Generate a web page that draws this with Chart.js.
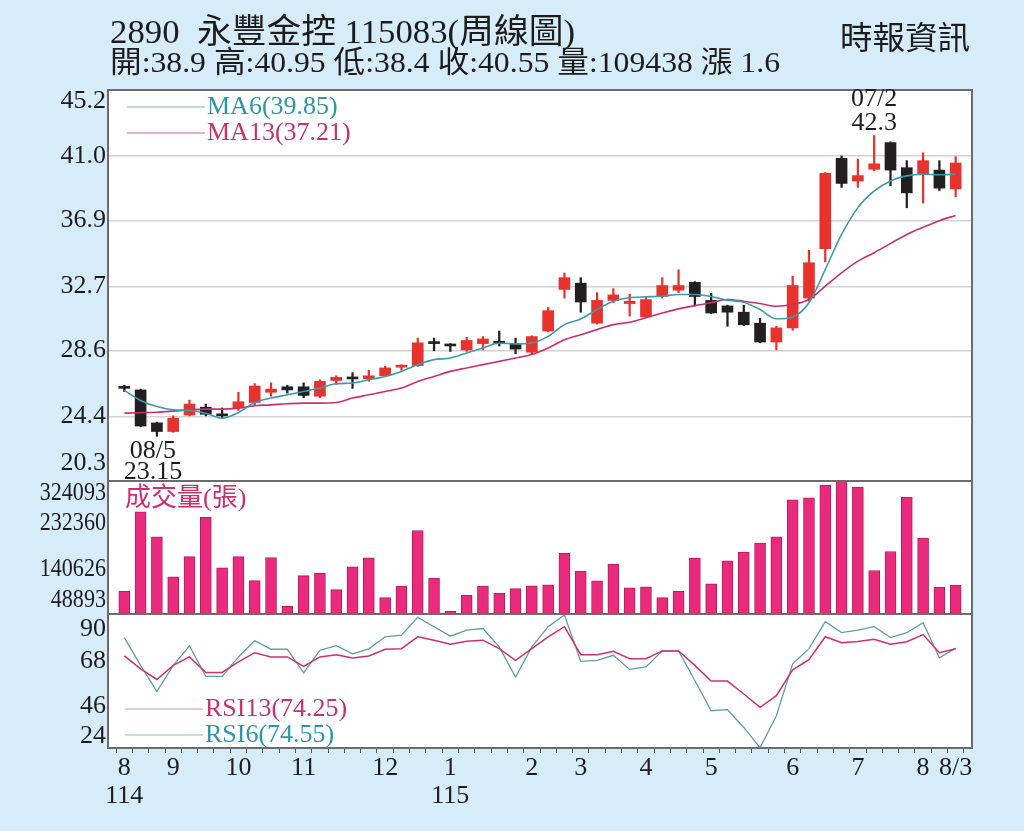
<!DOCTYPE html>
<html>

<head>
    <meta charset="UTF-8" />
    <title>永豐金控 周線圖</title>
    <script src="https://cdn.jsdelivr.net/npm/chart.js"></script>
    <style>
        body { margin: 0; background: #d6ecf9; }
        .lienzo { position: relative; width: 1024px; height: 831px; overflow: hidden; background: #d6ecf9; }
        .texto { position: absolute; white-space: nowrap; transform-origin: left center; color: #1c1c1c;
                 font-family: "Liberation Serif", "Noto Sans CJK TC", serif; }
        #linea1 { left: 110px; top: 14px; font-size: 34px; line-height: 36px; }
        #linea2 { left: 110px; top: 46px; font-size: 30px; line-height: 32px; }
        #fuente { left: 840px; top: 20px; font-size: 32px; line-height: 36px; }
        #grafico { position: absolute; left: 0; top: 0; }
    </style>
</head>

<body>
    <div class="lienzo">
        <canvas id="grafico" width="1024" height="831"></canvas>
        <div class="texto" id="linea1">2890&nbsp;&nbsp;永豐金控 115083(周線圖)</div>
        <div class="texto" id="linea2">開:38.9 高:40.95 低:38.4 收:40.55 量:109438 漲 1.6</div>
        <div class="texto" id="fuente">時報資訊</div>
    </div>

    <script>
        // Velas semanales (precio)
        const aperturas = [26.2, 26.1, 24.0, 23.45, 24.5, 25.0, 24.5, 24.95, 25.3, 25.95, 26.3, 26.3, 25.7, 26.7, 26.85, 26.8, 27.0, 27.55, 27.65, 29.1, 29.0, 28.65, 29.05, 29.2, 29.0, 28.5, 29.85, 32.5, 32.9, 30.35, 31.8, 31.6, 30.75, 32.05, 32.45, 32.95, 31.8, 31.45, 31.05, 30.35, 29.15, 30.05, 31.95, 35.1, 40.85, 39.4, 40.15, 41.85, 40.25, 39.85, 40.1, 38.9];
        const maximos = [26.4, 26.15, 24.05, 24.45, 25.45, 25.2, 24.95, 25.95, 26.5, 26.55, 26.4, 26.55, 26.75, 27.0, 27.2, 27.35, 27.6, 27.7, 29.4, 29.4, 29.05, 29.45, 29.5, 29.85, 29.4, 29.55, 31.35, 33.55, 33.25, 32.3, 32.55, 32.2, 32.05, 33.25, 33.75, 33.0, 32.25, 31.5, 31.5, 30.65, 30.15, 33.35, 35.0, 39.95, 41.0, 40.8, 42.3, 41.9, 40.7, 41.2, 40.7, 40.95];
        const minimos = [26.0, 23.75, 23.15, 23.4, 24.45, 24.45, 24.3, 24.8, 25.15, 25.7, 25.9, 25.6, 25.6, 26.45, 26.2, 26.65, 26.95, 27.35, 27.6, 28.6, 28.55, 28.55, 28.65, 28.9, 28.4, 28.35, 29.8, 31.95, 31.05, 30.3, 31.65, 30.8, 30.7, 31.95, 32.3, 31.45, 30.95, 30.15, 30.2, 29.1, 28.65, 29.9, 31.75, 34.25, 39.0, 39.0, 40.05, 39.1, 37.7, 38.0, 38.8, 38.4];
        const cierres = [26.2, 23.8, 23.45, 24.3, 25.2, 24.55, 24.45, 25.35, 26.35, 26.15, 26.1, 25.75, 26.65, 26.9, 26.8, 27.0, 27.5, 27.65, 29.1, 29.05, 28.9, 29.25, 29.35, 29.05, 28.7, 29.5, 31.15, 33.25, 31.7, 31.8, 32.15, 31.75, 31.85, 32.75, 32.75, 32.05, 31.0, 31.05, 30.25, 29.15, 30.05, 32.75, 34.2, 39.9, 39.25, 39.75, 40.5, 40.1, 38.65, 40.7, 38.95, 40.55];

        // Medias móviles
        const ma6 = [26.07, 25.43, 25.04, 24.83, 24.79, 24.62, 24.3, 24.66, 25.3, 25.58, 25.79, 26.0, 26.22, 26.49, 26.54, 26.75, 26.96, 27.28, 27.71, 28.03, 28.13, 28.45, 28.77, 29.09, 29.03, 29.09, 29.51, 30.26, 30.62, 31.22, 31.75, 31.97, 32.03, 32.07, 32.18, 32.18, 32.05, 31.81, 31.69, 31.22, 30.63, 30.75, 31.65, 33.77, 36.0, 37.71, 38.77, 39.41, 39.73, 39.84, 39.8, 39.85];
        const ma13 = [24.62, 24.65, 24.68, 24.75, 24.83, 24.88, 24.88, 24.94, 25.09, 25.15, 25.22, 25.26, 25.26, 25.3, 25.58, 25.79, 26.0, 26.22, 26.64, 26.96, 27.28, 27.5, 27.71, 27.92, 28.13, 28.35, 28.77, 29.3, 29.62, 29.94, 30.26, 30.41, 30.69, 31.0, 31.26, 31.47, 31.65, 31.86, 31.75, 31.6, 31.43, 31.54, 31.86, 32.71, 33.56, 34.3, 34.84, 35.43, 36.0, 36.46, 36.88, 37.21];

        // Volumen (張)
        const volumen = [97100, 255000, 205100, 125700, 166000, 243700, 143600, 166000, 118300, 164200, 67300, 128300, 133000, 100300, 145500, 163400, 84500, 107200, 217800, 123500, 57300, 89200, 107200, 93200, 102400, 107700, 109800, 172600, 137000, 117700, 150700, 103700, 105900, 84500, 97100, 162900, 111700, 157300, 174800, 192700, 205100, 278800, 282700, 308100, 316000, 304100, 138300, 176100, 283500, 202500, 105100, 109438];

        // RSI
        const rsi6 = [79.8, 66.0, 53.0, 66.0, 75.7, 60.5, 60.5, 70.2, 78.3, 74.0, 74.0, 62.3, 73.5, 75.8, 71.7, 74.2, 80.2, 81.0, 89.8, 85.2, 80.5, 83.5, 84.3, 75.2, 60.2, 75.2, 85.2, 91.0, 68.0, 68.5, 71.0, 64.0, 65.2, 73.2, 73.2, 58.5, 43.5, 44.0, 35.2, 25.2, 41.0, 66.8, 74.3, 87.7, 82.3, 83.5, 85.2, 79.8, 82.2, 87.2, 69.7, 74.55];
        const rsi13 = [70.7, 64.3, 59.0, 66.0, 70.2, 62.5, 62.5, 67.7, 72.3, 70.2, 70.2, 65.5, 70.2, 71.3, 69.7, 70.7, 74.0, 74.3, 80.2, 78.5, 76.5, 78.0, 78.5, 74.3, 68.5, 74.3, 80.2, 85.2, 71.3, 71.3, 73.0, 69.3, 69.3, 73.2, 73.2, 66.0, 58.2, 58.2, 51.8, 45.2, 51.0, 63.8, 68.8, 80.2, 77.2, 77.8, 79.0, 76.5, 77.7, 81.3, 72.3, 74.25];

        // Ejes
        const ticksPrecio = [45.2, 41.0, 36.9, 32.7, 28.6, 24.4, 20.3];
        const ticksVolumen = [324093, 232360, 140626, 48893];
        const ticksRsi = [90, 68, 46, 24];
        const mesesIdx = [0, 3, 7, 11, 16, 20, 25, 28, 32, 36, 41, 45, 49, 51];
        const mesesTexto = [['8', '114'], '9', '10', '11', '12', ['1', '115'], '2', '3', '4', '5', '6', '7', '8', '8/3'];

        // Máximo y mínimo marcados
        const notaIdx = [46, 2];
        const notaFecha = ['07/2', '08/5'];

        const ROJO = '#e8322e';
        const NEGRO = '#231f20';
        const FUENTE = '"Liberation Serif", "Noto Sans CJK TC", serif';
        const colores = cierres.map((c, i) => c > aperturas[i] ? ROJO : NEGRO);
        const puntos = serie => serie.map((v, i) => ({ x: i, y: v }));

        function rotular(ctx, escala, valores, pie, arriba, abajo, ancho) {
            valores.forEach(v => {
                let y = escala.getPixelForValue(v);
                y = Math.min(Math.max(y, escala.top + arriba), escala.bottom - abajo);
                ctx.save();
                ctx.translate(escala.left + escala.width - 2, y);
                ctx.scale(ancho, 1);
                ctx.fillText(pie(v), 0, 0);
                ctx.restore();
            });
        }

        function leyenda(ctx, x, y, colorLinea, colorTexto, texto) {
            ctx.strokeStyle = colorLinea;
            ctx.lineWidth = 1.5;
            ctx.beginPath();
            ctx.moveTo(x, y);
            ctx.lineTo(x + 78, y);
            ctx.stroke();
            ctx.fillStyle = colorTexto;
            ctx.textAlign = 'left';
            ctx.fillText(texto, x + 80, y);
        }

        const decorado = {
            id: 'decorado',
            beforeDraw(chart) {
                const { ctx, chartArea: a } = chart;
                ctx.save();
                ctx.fillStyle = '#ffffff';
                ctx.fillRect(a.left, a.top, a.width, a.height);
                ctx.restore();
            },
            afterDraw(chart) {
                const { ctx, chartArea: a, scales } = chart;
                const { x, yP, yV, yR } = scales;
                ctx.save();
                // marco y separadores de paneles
                ctx.strokeStyle = '#6c6c6c';
                ctx.lineWidth = 2;
                ctx.strokeRect(a.left, a.top, a.width, a.height);
                ctx.beginPath();
                [yP.bottom, yV.bottom].forEach(y => { ctx.moveTo(a.left, y); ctx.lineTo(a.right, y); });
                ctx.stroke();

                // etiquetas de los ejes verticales
                ctx.font = '26px ' + FUENTE;
                ctx.fillStyle = '#1c1c1c';
                ctx.textAlign = 'right';
                ctx.textBaseline = 'middle';
                rotular(ctx, yP, ticksPrecio, v => v.toFixed(1), 11, 18, 1);
                rotular(ctx, yV, ticksVolumen, v => String(v), 12, 14, 0.85);
                rotular(ctx, yR, ticksRsi, v => String(v), 15, 12, 1);

                // leyendas
                const n = ma6.length - 1;
                leyenda(ctx, a.left + 19, yP.top + 17, '#a9cbd1', '#2b97aa', `MA6(${ma6[n].toFixed(2)})`);
                leyenda(ctx, a.left + 19, yP.top + 43, '#d79ab4', '#cc2f6c', `MA13(${ma13[n].toFixed(2)})`);
                leyenda(ctx, a.left + 17, yR.bottom - 39, '#d8bcc8', '#cc2f6c', `RSI13(${rsi13[n].toFixed(2)})`);
                leyenda(ctx, a.left + 17, yR.bottom - 13, '#b9cfd1', '#2b97aa', `RSI6(${rsi6[n].toFixed(2)})`);
                ctx.fillStyle = '#cc2f6c';
                ctx.textAlign = 'left';
                ctx.fillText('成交量(張)', a.left + 17, yV.top + 18);

                // fecha y valor del máximo / mínimo
                ctx.fillStyle = '#1c1c1c';
                ctx.textAlign = 'center';
                const xa = x.getPixelForValue(notaIdx[0]);
                const ya = yP.getPixelForValue(maximos[notaIdx[0]]);
                ctx.fillText(String(maximos[notaIdx[0]]), xa, ya - 12);
                ctx.fillText(notaFecha[0], xa, ya - 36);
                const xb = x.getPixelForValue(notaIdx[1]) - 4;
                const yb = yP.getPixelForValue(minimos[notaIdx[1]]);
                ctx.fillText(notaFecha[1], xb, yb + 15);
                ctx.fillText(String(minimos[notaIdx[1]]), xb, yb + 36);
                ctx.restore();
            }
        };

        const ctx = document.getElementById('grafico').getContext('2d');
        new Chart(ctx, {
            type: 'bar',
            data: {
                datasets: [
                    { type: 'line', data: puntos(ma6), yAxisID: 'yP', borderColor: '#3a9bae', borderWidth: 1.6, pointRadius: 0, cubicInterpolationMode: 'monotone', order: 0 },
                    { type: 'line', data: puntos(ma13), yAxisID: 'yP', borderColor: '#c9306c', borderWidth: 1.6, pointRadius: 0, cubicInterpolationMode: 'monotone', order: 0 },
                    { data: aperturas.map((o, i) => ({ x: i, y: [o, cierres[i]] })), yAxisID: 'yP', backgroundColor: colores, barThickness: 11, minBarLength: 2, grouped: false, order: 1 },
                    { data: minimos.map((l, i) => ({ x: i, y: [l, maximos[i]] })), yAxisID: 'yP', backgroundColor: colores, barThickness: 1.6, grouped: false, order: 2 },
                    { data: puntos(volumen), yAxisID: 'yV', backgroundColor: '#e92a7d', borderColor: '#b51d5d', borderWidth: 1, barThickness: 11, grouped: false, order: 1 },
                    { type: 'line', data: puntos(rsi13), yAxisID: 'yR', borderColor: '#d0306c', borderWidth: 1.5, pointRadius: 0, tension: 0, order: 0 },
                    { type: 'line', data: puntos(rsi6), yAxisID: 'yR', borderColor: '#5f9ea2', borderWidth: 1.3, pointRadius: 0, tension: 0, order: 0 }
                ]
            },
            options: {
                responsive: false,
                animation: false,
                layout: { padding: { left: 68, right: 52, top: 90, bottom: 23 } },
                plugins: { legend: { display: false }, tooltip: { enabled: false } },
                scales: {
                    x: {
                        type: 'linear', min: -1, max: 52, offset: false,
                        afterBuildTicks: s => { s.ticks = aperturas.map((_, i) => ({ value: i })); },
                        afterFit: s => { s.height = 60; },
                        grid: { drawOnChartArea: false, tickLength: 5, color: '#555' },
                        border: { display: false },
                        ticks: {
                            autoSkip: false, maxRotation: 0, padding: 1, color: '#1c1c1c',
                            font: { family: FUENTE, size: 26, lineHeight: 1.08 },
                            callback: v => { const k = mesesIdx.indexOf(v); return k < 0 ? '' : mesesTexto[k]; }
                        }
                    },
                    yP: {
                        type: 'linear', position: 'left', stack: 'paneles', stackWeight: 391, weight: 3,
                        min: 20.3, max: 45.2,
                        afterBuildTicks: s => { s.ticks = ticksPrecio.map(v => ({ value: v })); },
                        afterFit: s => { s.width = 40; },
                        grid: { drawTicks: false, lineWidth: 1.5, color: c => (c.tick && (c.tick.value === 45.2 || c.tick.value === 20.3)) ? 'rgba(0,0,0,0)' : '#d2d2d2' },
                        border: { display: false },
                        ticks: { display: false }
                    },
                    yV: {
                        type: 'linear', position: 'left', stack: 'paneles', stackWeight: 133, weight: 2,
                        min: 52000, max: 316000,
                        afterFit: s => { s.width = 40; },
                        grid: { display: false },
                        border: { display: false },
                        ticks: { display: false }
                    },
                    yR: {
                        type: 'linear', position: 'left', stack: 'paneles', stackWeight: 134, weight: 1,
                        min: 25, max: 91.5,
                        afterFit: s => { s.width = 40; },
                        grid: { display: false },
                        border: { display: false },
                        ticks: { display: false }
                    }
                }
            },
            plugins: [decorado]
        });

        // Ajuste del ancho de los textos del encabezado
        function ajustarAncho(id, ancho) {
            const el = document.getElementById(id);
            el.style.transform = `scaleX(${ancho / el.getBoundingClientRect().width})`;
        }
        ajustarAncho('linea1', 465);
        ajustarAncho('linea2', 670);
        ajustarAncho('fuente', 130);
    </script>
</body>

</html>
